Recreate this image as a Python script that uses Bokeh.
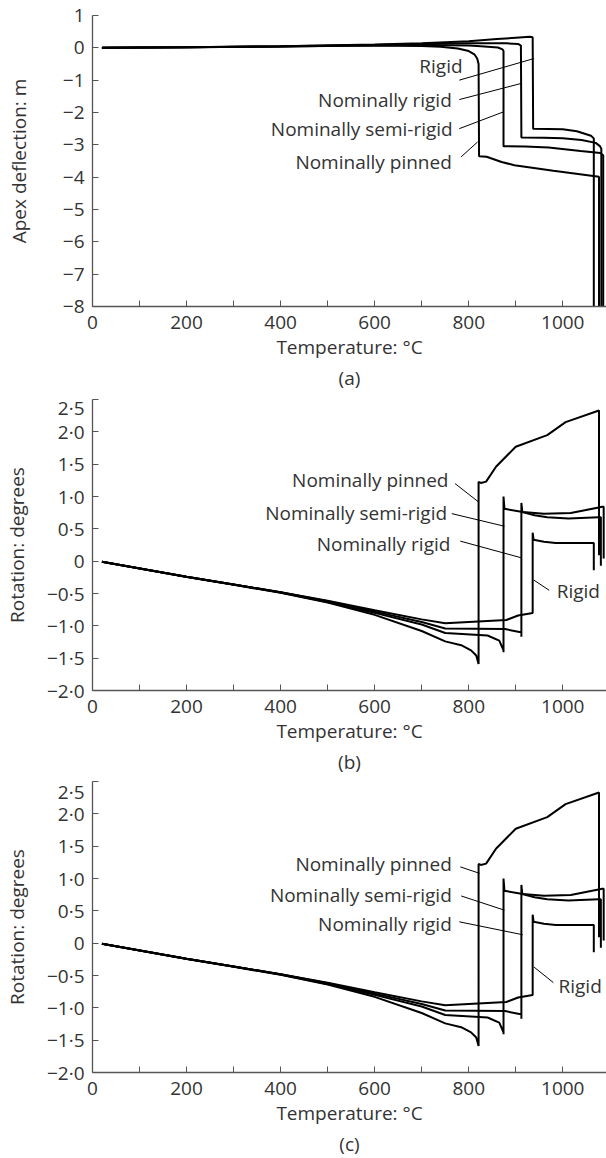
from bokeh.plotting import figure
from bokeh.layouts import column
from bokeh.models import Range1d, FixedTicker, Title
from bokeh.embed import file_html
from bokeh.resources import INLINE
from bokeh.core.properties import value

FONT = "Open Sans"
TXT = "#333333"
AXC = "#555555"
FS = "19px"

# ---------------- shared x axis ----------------
temp_ticks = [0, 200, 400, 600, 800, 1000]
temp_minor = [100, 300, 500, 700, 900]
x_label = "Temperature: °C"

# ---------------- panel (a): apex deflection ----------------
defl_ticks = [1, 0, -1, -2, -3, -4, -5, -6, -7, -8]
defl_tick_labels = ["1", "0", "−1", "−2", "−3", "−4", "−5", "−6", "−7", "−8"]

a_rigid_T = [20, 200, 400, 600, 700, 800, 860, 900, 930, 936, 937, 1000, 1030, 1060, 1066, 1066]
a_rigid_D = [0.0, 0.02, 0.05, 0.10, 0.14, 0.20, 0.27, 0.31, 0.34, 0.33, -2.50, -2.52, -2.58, -2.72, -2.80, -8.0]

a_nomrigid_T = [20, 200, 400, 600, 700, 800, 880, 905, 911, 912, 960, 1000, 1040, 1070, 1079, 1082, 1082]
a_nomrigid_D = [0.0, 0.02, 0.05, 0.09, 0.12, 0.14, 0.14, 0.12, 0.07, -2.77, -2.78, -2.80, -2.85, -2.94, -3.04, -3.12, -8.0]

a_semi_T = [20, 200, 400, 600, 700, 800, 826, 862, 872, 874, 874, 920, 970, 1038, 1080, 1086, 1086]
a_semi_D = [0.0, 0.02, 0.04, 0.08, 0.09, 0.07, 0.05, 0.01, -0.05, -0.10, -3.04, -3.05, -3.08, -3.19, -3.25, -3.32, -8.0]

a_pinned_T = [20, 200, 400, 600, 700, 740, 777, 800, 812, 818, 821, 822, 838, 870, 897, 980, 1077, 1077]
a_pinned_D = [0.0, 0.02, 0.04, 0.07, 0.06, 0.03, -0.02, -0.10, -0.20, -0.33, -0.50, -3.35, -3.37, -3.53, -3.63, -3.80, -3.99, -8.0]

a_label_text = ["Rigid", "Nominally rigid", "Nominally semi-rigid", "Nominally pinned"]
a_label_T = [787, 764, 766, 764]
a_label_D = [-0.57, -1.62, -2.50, -3.53]
a_lead_T0 = [780, 780, 780, 784]
a_lead_D0 = [-1.00, -1.60, -2.50, -3.37]
a_lead_T1 = [939, 912, 874, 819]
a_lead_D1 = [-0.33, -1.10, -1.98, -2.91]

# ---------------- panels (b) and (c): rotation ----------------
rot_ticks = [2.5, 2, 1.5, 1, 0.5, 0, -0.5, -1, -1.5, -2]
rot_tick_labels = ["2·5", "2·0", "1·5", "1·0", "0·5", "0", "−0·5", "−1·0", "−1·5", "−2·0"]

r_rigid_T = [20, 200, 300, 400, 500, 600, 700, 750, 880, 905, 936, 936, 938, 960, 985, 1066, 1066]
r_rigid_R = [-0.01, -0.24, -0.36, -0.48, -0.61, -0.76, -0.90, -0.96, -0.91, -0.84, -0.80, 0.44, 0.33, 0.30, 0.28, 0.28, -0.14]

r_nomrigid_T = [20, 200, 300, 400, 500, 600, 700, 750, 877, 905, 912, 912, 912, 914, 940, 967, 1012, 1077, 1081, 1081]
r_nomrigid_R = [-0.01, -0.24, -0.36, -0.48, -0.62, -0.78, -0.94, -1.04, -1.05, -1.09, -1.10, -1.17, 0.90, 0.76, 0.71, 0.68, 0.66, 0.68, 0.68, -0.07]

r_semi_T = [20, 200, 300, 400, 500, 600, 700, 750, 840, 865, 874, 874, 874, 876, 915, 960, 1017, 1084, 1087, 1087]
r_semi_R = [-0.01, -0.24, -0.36, -0.485, -0.63, -0.80, -0.98, -1.11, -1.15, -1.23, -1.38, -1.41, 1.00, 0.81, 0.76, 0.735, 0.745, 0.84, 0.84, 0.04]

r_pinned_T = [20, 200, 300, 400, 500, 600, 700, 750, 784, 805, 816, 821, 821, 826, 837, 858, 900, 967, 1006, 1077, 1077]
r_pinned_R = [-0.01, -0.245, -0.365, -0.49, -0.64, -0.83, -1.08, -1.24, -1.30, -1.38, -1.46, -1.59, 1.225, 1.21, 1.23, 1.46, 1.77, 1.95, 2.15, 2.33, 0.09]

rot_label_text = ["Nominally pinned", "Nominally semi-rigid", "Nominally rigid", "Rigid"]
rot_label_align = ["right", "right", "right", "left"]

b_label_T = [757, 754, 761, 987]
b_label_R = [1.25, 0.745, 0.27, -0.46]
b_lead_T0 = [771, 764, 782, 938]
b_lead_R0 = [1.20, 0.735, 0.31, -0.29]
b_lead_T1 = [821, 876, 913, 971]
b_lead_R1 = [0.915, 0.54, 0.05, -0.45]

c_label_T = [764, 764, 764, 991]
c_label_R = [1.23, 0.75, 0.30, -0.66]
c_lead_T0 = [782, 784, 780, 939]
c_lead_R0 = [1.18, 0.73, 0.33, -0.37]
c_lead_T1 = [823, 876, 915, 980]
c_lead_R1 = [1.08, 0.51, 0.13, -0.61]


def make_panel(height, top, bottom, yr, yticks, ylabels, ylab, ylab_standoff,
               series, ltext, lalign, lx, ly, lx0, ly0, lx1, ly1, caption):
    p = figure(width=606, height=height, output_backend="svg", toolbar_location=None,
               x_range=Range1d(0, 1093), y_range=Range1d(*yr),
               min_border_left=90, min_border_right=0,
               min_border_top=top, min_border_bottom=bottom)
    p.outline_line_color = None
    p.grid.visible = False
    p.background_fill_color = "white"
    p.border_fill_color = "white"

    xa = p.xaxis[0]
    xa.ticker = FixedTicker(ticks=temp_ticks, minor_ticks=temp_minor)
    xa.axis_label = x_label
    ya = p.yaxis[0]
    ya.ticker = FixedTicker(ticks=yticks)
    ya.major_label_overrides = {t: s for t, s in zip(yticks, ylabels)}
    ya.axis_label = ylab
    ya.axis_label_standoff = ylab_standoff
    for ax in (xa, ya):
        ax.axis_line_color = AXC
        ax.axis_line_width = 1.3
        ax.major_tick_line_color = AXC
        ax.minor_tick_line_color = AXC
        ax.major_tick_in = 6
        ax.major_tick_out = 0
        ax.minor_tick_in = 6
        ax.minor_tick_out = 0
        ax.major_label_text_font = FONT
        ax.major_label_text_font_size = FS
        ax.major_label_text_color = TXT
        ax.axis_label_text_font = FONT
        ax.axis_label_text_font_size = FS
        ax.axis_label_text_font_style = "normal"
        ax.axis_label_text_color = TXT
    xa.major_label_standoff = 9
    xa.axis_label_standoff = 2
    ya.major_label_standoff = 8

    for xs, ys in series:
        p.line(xs, ys, line_color="black", line_width=2)

    p.segment(x0=lx0, y0=ly0, x1=lx1, y1=ly1, line_color="black", line_width=1)

    for align in ("right", "left"):
        idx = [i for i, a in enumerate(lalign) if a == align]
        if not idx:
            continue
        p.text(x=[lx[i] for i in idx], y=[ly[i] for i in idx], text=[ltext[i] for i in idx],
               text_align=align, text_baseline="middle",
               text_font=value(FONT), text_font_size=FS, text_color=TXT)

    p.add_layout(Title(text=caption, align="center", standoff=1,
                       text_font=FONT, text_font_size=FS, text_font_style="normal",
                       text_color=TXT), "below")
    return p


pa = make_panel(394, 15, 88, (-8, 1), defl_ticks, defl_tick_labels, "Apex deflection: m", 28,
                [(a_rigid_T, a_rigid_D), (a_nomrigid_T, a_nomrigid_D),
                 (a_semi_T, a_semi_D), (a_pinned_T, a_pinned_D)],
                a_label_text, ["right"] * 4, a_label_T, a_label_D,
                a_lead_T0, a_lead_D0, a_lead_T1, a_lead_D1, "(a)")

rot_series = [(r_rigid_T, r_rigid_R), (r_nomrigid_T, r_nomrigid_R),
              (r_semi_T, r_semi_R), (r_pinned_T, r_pinned_R)]

pb = make_panel(384, 5, 88, (-2, 2.5), rot_ticks, rot_tick_labels, "Rotation: degrees", 14,
                rot_series, rot_label_text, rot_label_align, b_label_T, b_label_R,
                b_lead_T0, b_lead_R0, b_lead_T1, b_lead_R1, "(b)")

pc = make_panel(380, 3, 86, (-2, 2.5), rot_ticks, rot_tick_labels, "Rotation: degrees", 14,
                rot_series, rot_label_text, rot_label_align, c_label_T, c_label_R,
                c_lead_T0, c_lead_R0, c_lead_T1, c_lead_R1, "(c)")

layout = column(pa, pb, pc, spacing=0)
open("out.html", "w").write(file_html(layout, INLINE))
